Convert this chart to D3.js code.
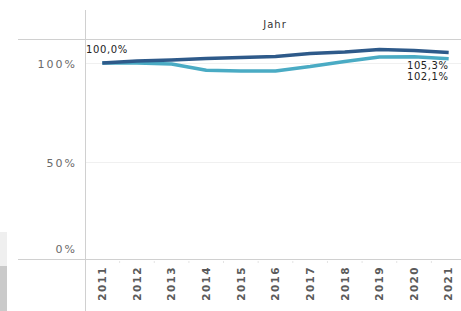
<!DOCTYPE html>
<html>
<head>
<meta charset="utf-8">
<script src="https://cdn.jsdelivr.net/npm/d3@7"></script>
<style>
  body { margin: 0; background: #fff; }
  svg text { font-family: "DejaVu Sans", Arial, sans-serif; }
</style>
</head>
<body>
<div id="chart"></div>
<script>
// data
const years = ["2011", "2012", "2013", "2014", "2015", "2016", "2017", "2018", "2019", "2020", "2021"];
const darkSeries = [1.000, 1.010, 1.015, 1.023, 1.028, 1.033, 1.048, 1.055, 1.068, 1.063, 1.053];
const tealSeries = [1.000, 1.000, 0.995, 0.963, 0.960, 0.960, 0.982, 1.008, 1.030, 1.032, 1.021];
const yTicks = [0, 0.5, 1];
const headerLabel = "Jahr";

const W = 461, H = 311;
const pane = { left: 85, top: 39, bottom: 259, right: 461 };

const de = d3.formatLocale({ decimal: ",", thousands: ".", grouping: [3], currency: ["", " €"] });
const fmtTick = de.format(".0%");
const fmtLabel = de.format(".1%");

const svg = d3.select("#chart").append("svg")
  .attr("width", W).attr("height", H);

const xScale = d3.scaleBand().domain(years).range([pane.left, 466]);
const yScale = d3.scaleLinear().domain([0, 1]).range([261, 63]);

// grey strip on the far left
svg.append("rect").attr("x", 0).attr("y", 232).attr("width", 7).attr("height", 34).attr("fill", "#efefef");
svg.append("rect").attr("x", 0).attr("y", 266).attr("width", 7).attr("height", 45).attr("fill", "#cacaca");

// gridlines
svg.append("g")
  .selectAll("line")
  .data(yTicks.filter(d => d > 0))
  .enter()
  .append("line")
  .attr("x1", pane.left).attr("x2", pane.right)
  .attr("y1", d => Math.round(yScale(d)) + 0.5)
  .attr("y2", d => Math.round(yScale(d)) + 0.5)
  .attr("stroke", "#f0f0f0");

// header
svg.append("text")
  .attr("x", (pane.left + pane.right) / 2 + 2)
  .attr("y", 28)
  .attr("text-anchor", "middle")
  .attr("font-size", 10)
  .attr("letter-spacing", 1)
  .attr("fill", "#333")
  .text(headerLabel);

// frame lines
svg.append("line").attr("x1", 18).attr("x2", W).attr("y1", pane.top + 0.5).attr("y2", pane.top + 0.5)
  .attr("stroke", "#d0d0d0");
svg.append("line").attr("x1", 18).attr("x2", W).attr("y1", pane.bottom + 0.5).attr("y2", pane.bottom + 0.5)
  .attr("stroke", "#d0d0d0");
svg.append("line").attr("x1", pane.left + 0.5).attr("x2", pane.left + 0.5).attr("y1", 10).attr("y2", H)
  .attr("stroke", "#d0d0d0");

// y axis
const yAxis = svg.append("g")
  .attr("transform", `translate(${pane.left},0)`)
  .call(d3.axisLeft(yScale).tickValues(yTicks).tickFormat(fmtTick).tickSize(0).tickPadding(8));
yAxis.select(".domain").remove();
yAxis.selectAll("text")
  .attr("font-size", 11)
  .attr("letter-spacing", 2)
  .attr("fill", "#6a6a6a")
  .attr("dy", d => (d === 0 ? "-0.75em" : "0.45em"));

// x axis
const xAxis = svg.append("g")
  .attr("transform", `translate(0,${pane.bottom})`)
  .call(d3.axisBottom(xScale).tickSize(0));
xAxis.select(".domain").remove();
xAxis.selectAll("text")
  .attr("transform", "rotate(-90)")
  .attr("text-anchor", "end")
  .attr("x", -7)
  .attr("y", 0)
  .attr("dy", "0.36em")
  .attr("font-size", 10.5)
  .attr("font-weight", "bold")
  .attr("letter-spacing", 1.4)
  .attr("fill", "#5a5a5a");

// small band boundary marks
svg.append("g")
  .selectAll("line")
  .data(years.slice(1))
  .enter()
  .append("line")
  .attr("x1", d => xScale(d)).attr("x2", d => xScale(d))
  .attr("y1", pane.bottom + 2).attr("y2", pane.bottom + 4)
  .attr("stroke", "#e4e4e4");

// lines
const line = d3.line()
  .x((d, i) => xScale(years[i]) + xScale.bandwidth() / 2)
  .y(d => yScale(d));

const series = [
  { values: tealSeries, color: "#4aabc4" },
  { values: darkSeries, color: "#2e5a8a" }
];

svg.append("g")
  .selectAll("path")
  .data(series)
  .enter()
  .append("path")
  .attr("d", d => line(d.values))
  .attr("fill", "none")
  .attr("stroke", d => d.color)
  .attr("stroke-width", 3.5)
  .attr("stroke-linejoin", "round");

// mark labels (end labels stacked so they do not collide)
const last = years.length - 1;
const xEnd = xScale(years[last]) + xScale.bandwidth() / 2;
const labels = [
  { text: fmtLabel(darkSeries[0]), x: pane.left + 1, y: yScale(darkSeries[0]) - 14, anchor: "start" },
  { text: fmtLabel(darkSeries[last]), x: xEnd, y: yScale(darkSeries[last]) + 13, anchor: "end" },
  { text: fmtLabel(tealSeries[last]), x: xEnd, y: yScale(tealSeries[last]) + 18, anchor: "end" }
];

svg.append("g")
  .selectAll("text")
  .data(labels)
  .enter()
  .append("text")
  .attr("x", d => d.x)
  .attr("y", d => d.y)
  .attr("dy", "0.35em")
  .attr("text-anchor", d => d.anchor)
  .attr("font-size", 10)
  .attr("letter-spacing", 0.6)
  .attr("fill", "#222")
  .text(d => d.text);
</script>
</body>
</html>
